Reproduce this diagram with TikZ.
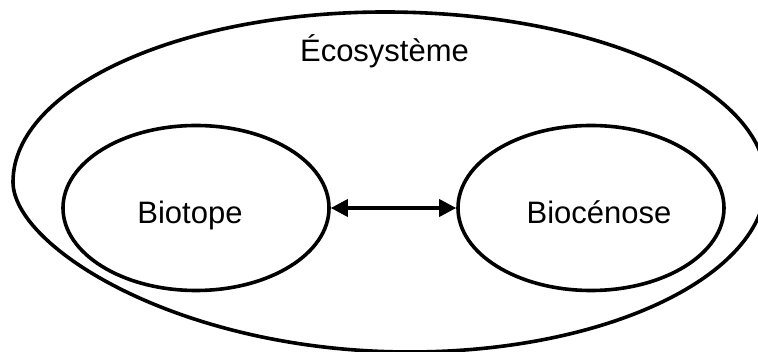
\documentclass[tikz,border=0pt]{standalone}
\usepackage{fontspec}
\setmainfont{Liberation Sans}
\usetikzlibrary{arrows.meta,shapes.geometric}
\begin{document}
\begin{tikzpicture}[x=1pt,y=-1pt,
  every node/.style={inner sep=0pt},
  stroke/.style={line width=3.6pt},
  oval/.style={draw,stroke,ellipse,minimum width=266pt,minimum height=165pt},
  lbl/.style={font=\fontsize{31}{36}\selectfont,anchor=base},
  link/.style={stroke,{Triangle[length=17pt,width=17pt]}-{Triangle[length=17pt,width=17pt]}}]
\useasboundingbox (0,0) rectangle (758,352);
\clip (0,0) rectangle (758,352);
\coordinate (t) at (385,12);
\coordinate (l) at (13,182);
\coordinate (b) at (410,352);
\coordinate (r) at (766,182);
\draw[stroke] (t) .. controls (180,12) and (13,88) .. (l)
  .. controls (13,247) and (180,352) .. (b)
  .. controls (606,352) and (766,276) .. (r)
  .. controls (766,88) and (595,12) .. (t) -- cycle;
\node[oval] (biotope) at (196,208) {};
\node[oval] (biocenose) at (591,208) {};
\node[lbl] (biotopeT) at (190,224) {Biotope};
\node[lbl] (biocenoseT) at (599,224) {Biocénose};
\node[lbl] (eco) at (384.5,62) {Écosystème};
\draw[link] (biotope.east) -- (biocenose.west);
\end{tikzpicture}
\end{document}
